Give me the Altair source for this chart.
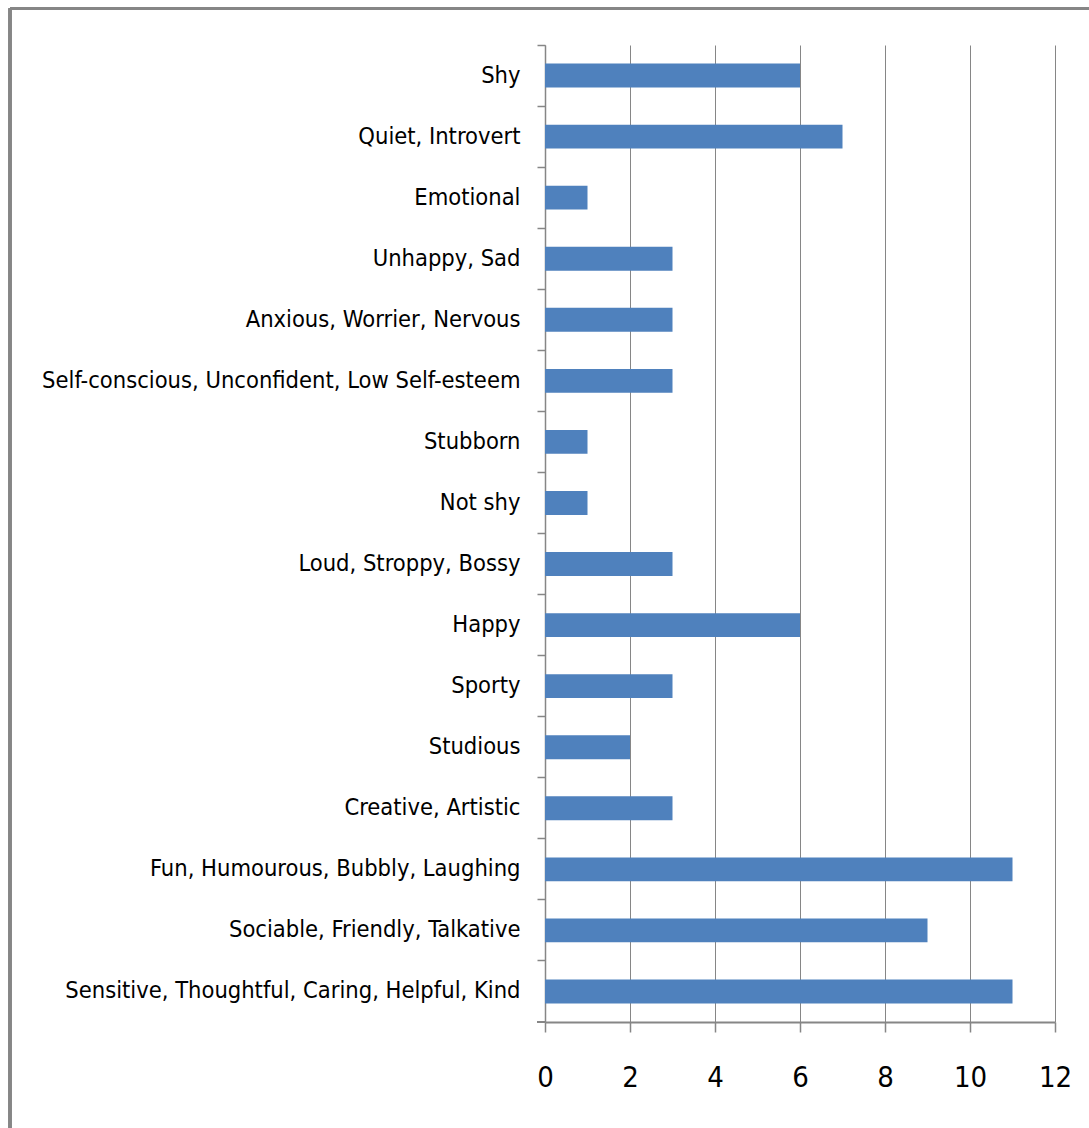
import altair as alt
import pandas as pd

# Trait categories, listed top to bottom as they appear on the axis
traits = [
    "Shy",
    "Quiet, Introvert",
    "Emotional",
    "Unhappy, Sad",
    "Anxious, Worrier, Nervous",
    "Self-conscious, Unconfident, Low Self-esteem",
    "Stubborn",
    "Not shy",
    "Loud, Stroppy, Bossy",
    "Happy",
    "Sporty",
    "Studious",
    "Creative, Artistic",
    "Fun, Humourous, Bubbly, Laughing",
    "Sociable, Friendly, Talkative",
    "Sensitive, Thoughtful, Caring, Helpful, Kind",
]
counts = [6, 7, 1, 3, 3, 3, 1, 1, 3, 6, 3, 2, 3, 11, 9, 11]
x_ticks = [0, 2, 4, 6, 8, 10, 12]

df = pd.DataFrame({"trait": traits, "count": counts})

FONT = "Liberation Sans Narrow, DejaVu Sans Condensed, Arial Narrow, sans-serif"
GREY = "#868686"
BLUE = "#4F81BD"

W, H = 510, 977
LEFT, TOP = 545, 45

bars = alt.Chart(df).mark_bar(color=BLUE, height=alt.RelativeBandSize(0.39)).encode(
    x=alt.X(
        "count:Q",
        scale=alt.Scale(domain=[0, 12], nice=False),
        axis=alt.Axis(
            values=x_ticks,
            title=None,
            grid=True,
            gridColor=GREY,
            gridWidth=1,
            domainColor=GREY,
            domainWidth=2,
            tickColor=GREY,
            tickWidth=1.5,
            tickSize=10,
            labelFont=FONT,
            labelFontSize=29,
            labelColor="#000000",
            labelPadding=31,
            labelFlush=False,
        ),
    ),
    y=alt.Y(
        "trait:N",
        sort=traits,
        scale=alt.Scale(paddingInner=0, paddingOuter=0),
        axis=alt.Axis(
            title=None,
            bandPosition=0,
            domainColor=GREY,
            domainWidth=1.5,
            tickColor=GREY,
            tickWidth=1.5,
            tickSize=8,
            labelFont=FONT,
            labelFontSize=23.5,
            labelColor="#000000",
            labelPadding=17,
            labelLimit=0,
        ),
    ),
)

# closing tick at the bottom of the category axis
bottom_tick = alt.Chart(df).mark_rule(color=GREY, strokeWidth=1.5).encode(
    x=alt.value(-8), x2=alt.value(0), y=alt.value(H)
)

# outer chart frame (top and left edges)
frame_top = alt.Chart(df).mark_rule(color=GREY, strokeWidth=2.5).encode(
    x=alt.value(10 - LEFT), x2=alt.value(1089 - LEFT + 5), y=alt.value(8.5 - TOP)
)
frame_left = alt.Chart(df).mark_rule(color=GREY, strokeWidth=2.5).encode(
    x=alt.value(10 - LEFT), y=alt.value(8.5 - TOP), y2=alt.value(1128 - TOP + 5)
)

chart = (
    alt.layer(bars, bottom_tick, frame_top, frame_left)
    .properties(
        width=W,
        height=H,
        autosize=alt.AutoSizeParams(type="none"),
        padding={"left": LEFT, "top": TOP, "right": 1089 - LEFT - W, "bottom": 1128 - TOP - H},
        background="white",
    )
    .configure_view(stroke=None)
)

chart.save("out.html", embed_options={"renderer": "svg", "actions": False})
